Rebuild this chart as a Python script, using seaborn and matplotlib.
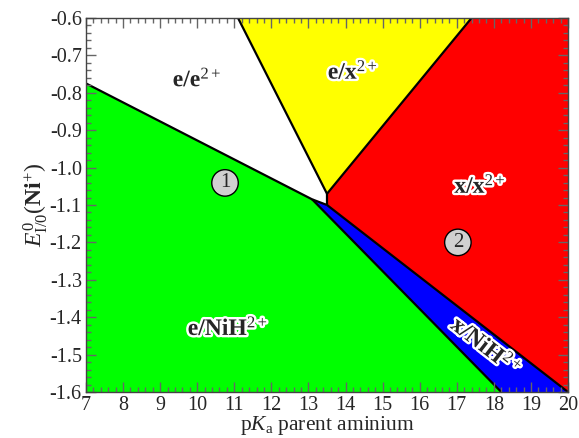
import matplotlib
matplotlib.use("Agg")
import matplotlib.pyplot as plt
import matplotlib.patheffects as pe
from matplotlib.ticker import MultipleLocator
import seaborn as sns

# Region boundary vertices (pKa, E)
x_min, x_max = 7, 20
y_min, y_max = -1.6, -0.6
p_left = (7.0, -0.775)      # green/white boundary at left edge
p_green = (13.1, -1.085)    # green/white/blue junction
p_blue = (13.5, -1.10)      # white/blue/red junction
p_center = (13.5, -1.07)    # white/yellow/red junction
top_wy = 11.1               # white/yellow boundary at top
top_yr = 17.4               # yellow/red boundary at top
bot_gb = 18.2               # green/blue boundary at bottom
bot_br = 20.0               # blue/red boundary at bottom

region_colors = ["white", "#FFFF00", "#FF0000", "#0000FF", "#00FF00"]
region_labels = [r"$\mathbf{e/e}^{\mathrm{2+}}$", r"$\mathbf{e/x}^{\mathrm{2+}}$",
                 r"$\mathbf{x/x}^{\mathrm{2+}}$", r"$\mathbf{x/NiH}^{\mathrm{2+}}$",
                 r"$\mathbf{e/NiH}^{\mathrm{2+}}$"]
label_x = [10.0, 14.2, 17.63, 17.78, 10.83]
label_y = [-0.765, -0.745, -1.05, -1.48, -1.43]
label_rot = [0, 0, 0, -38, 0]
circle_labels = ["1", "2"]
circle_x = [10.75, 17.03]
circle_y = [-1.041, -1.20]

sns.set_theme(style="ticks")
plt.rcParams["font.family"] = ["Liberation Serif", "DejaVu Serif"]
plt.rcParams["mathtext.fontset"] = "custom"
plt.rcParams["mathtext.rm"] = "Liberation Serif"
plt.rcParams["mathtext.it"] = "Liberation Serif:italic"
plt.rcParams["mathtext.bf"] = "Liberation Serif:bold"

fig = plt.figure(figsize=(5.79, 4.38), dpi=100)
ax = fig.add_axes([0.1485, 0.105, 0.8325, 0.854])
ax.set_axisbelow(False)

polys = [
    [(x_min, y_max), (top_wy, y_max), p_center, p_blue, p_green, p_left],
    [(top_wy, y_max), (top_yr, y_max), p_center],
    [(top_yr, y_max), (x_max, y_max), (x_max, y_min), (bot_br, y_min), p_blue, p_center],
    [p_green, p_blue, (bot_br, y_min), (bot_gb, y_min)],
    [p_left, p_green, (bot_gb, y_min), (x_min, y_min)],
]
for poly, col in zip(polys, region_colors):
    xs = [p[0] for p in poly]
    ys = [p[1] for p in poly]
    ax.fill(xs, ys, color=col, lw=0, zorder=1)

lines = [
    [p_left, p_green, p_blue],
    [(top_wy, y_max), p_center],
    [(top_yr, y_max), p_center, p_blue],
    [p_green, (bot_gb, y_min)],
    [p_blue, (bot_br, y_min)],
]
for ln in lines:
    ax.plot([p[0] for p in ln], [p[1] for p in ln], color="black", lw=1.6, zorder=2,
            solid_capstyle="butt")

for t, x, y, r in zip(region_labels, label_x, label_y, label_rot):
    ax.text(x, y, t, fontsize=17, ha="center", va="center", rotation=r, zorder=4,
            path_effects=[pe.withStroke(linewidth=3.5, foreground="white")])

for t, x, y in zip(circle_labels, circle_x, circle_y):
    ax.text(x, y, t, fontsize=15, ha="center", va="center", zorder=4,
            bbox=dict(boxstyle="circle,pad=0.18", fc="#D0D0D0", ec="black", lw=1))

ax.set_xlim(x_min, x_max)
ax.set_ylim(y_min, y_max)
ax.xaxis.set_major_locator(MultipleLocator(1))
ax.xaxis.set_minor_locator(MultipleLocator(0.2))
ax.yaxis.set_major_locator(MultipleLocator(0.1))
ax.yaxis.set_minor_locator(MultipleLocator(0.02))
ax.yaxis.set_major_formatter(plt.FuncFormatter(lambda v, p: f"{v:.1f}"))
ax.tick_params(which="both", direction="in", top=True, right=True, color="#666666",
               labelsize=14.5, pad=3, width=1)
ax.tick_params(which="major", length=7)
ax.tick_params(which="minor", length=3.5)
for s in ax.spines.values():
    s.set_color("#444444")
    s.set_linewidth(1.0)
    s.set_zorder(5)

ax.set_xlabel(r"p$K_{\mathrm{a}}$ parent aminium", fontsize=15.5, labelpad=-1)
ax.set_ylabel(r"$E^{0}_{\mathrm{I/0}}(\mathbf{Ni}^{+})$", fontsize=17, labelpad=0)

fig.savefig("out.png", dpi=100)
